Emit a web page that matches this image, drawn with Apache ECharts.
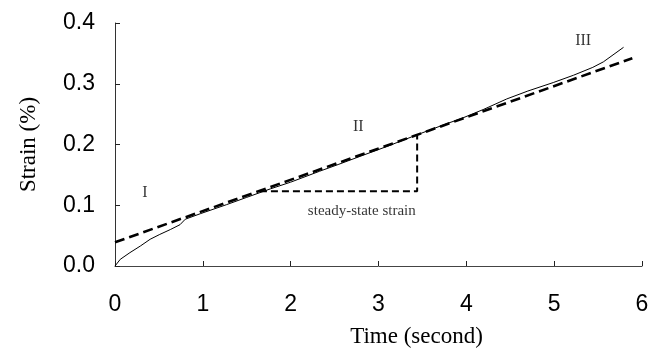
<!DOCTYPE html>
<html>
<head>
<meta charset="utf-8">
<script src="https://cdn.jsdelivr.net/npm/echarts@6/dist/echarts.min.js"></script>
<style>html,body{margin:0;padding:0;background:#fff}#c{width:665px;height:364px}</style>
</head>
<body>
<div id="c"></div>
<script>
// Measured creep strain curve
const timeMeasured = [0, 0.06, 0.17, 0.29, 0.40, 0.51, 0.63, 0.74, 0.80, 0.97, 1.27, 1.5, 1.77, 2.0, 2.33, 2.54, 2.8, 3.1, 3.44, 3.79, 3.93, 4.2, 4.46, 4.7, 4.99, 5.22, 5.44, 5.56, 5.79];
const strainMeasured = [0, 0.011, 0.022, 0.033, 0.044, 0.052, 0.060, 0.068, 0.077, 0.086, 0.101, 0.113, 0.127, 0.138, 0.156, 0.167, 0.181, 0.197, 0.216, 0.235, 0.242, 0.258, 0.275, 0.288, 0.302, 0.314, 0.327, 0.336, 0.360];
// Linear steady-state fit (dashed)
const timeFit = [0, 5.89];
const strainFit = [0.039, 0.342];
// Steady-state strain triangle
const timeTriangle = [1.65, 3.44, 3.44];
const strainTriangle = [0.123, 0.123, 0.216];
// Axis ticks
const xTicks = [0, 1, 2, 3, 4, 5, 6];
const yTicks = [0.0, 0.1, 0.2, 0.3, 0.4];
// Annotations
const annotationText = ['I', 'II', 'III', 'steady-state strain'];
const annotationTime = [0.34, 2.77, 5.33, 2.81];
const annotationStrain = [0.12, 0.229, 0.37, 0.091];

const zip = (a, b) => a.map((v, i) => [v, b[i]]);

const chart = echarts.init(document.getElementById('c'), null, {renderer: 'canvas'});
chart.setOption({
  animation: false,
  backgroundColor: '#fff',
  grid: {left: 115, right: 23, top: 23, bottom: 98},
  xAxis: {
    type: 'value',
    min: xTicks[0], max: xTicks[xTicks.length - 1], interval: 1,
    name: 'Time (second)',
    nameLocation: 'middle',
    nameGap: 59,
    nameTextStyle: {fontFamily: 'Liberation Serif', fontSize: 23, color: '#000', padding: [0, 0, 0, 76]},
    axisLine: {lineStyle: {color: '#444', width: 1}},
    axisTick: {inside: true, length: 5, lineStyle: {color: '#222'}},
    splitLine: {show: false},
    axisLabel: {fontFamily: 'Liberation Sans', fontSize: 23, color: '#000', margin: 27}
  },
  yAxis: {
    type: 'value',
    min: yTicks[0], max: yTicks[yTicks.length - 1], interval: 0.1,
    name: 'Strain (%)',
    nameLocation: 'middle',
    nameGap: 75,
    nameTextStyle: {fontFamily: 'Liberation Serif', fontSize: 23, color: '#000'},
    axisLine: {show: true, lineStyle: {color: '#333', width: 1}},
    axisTick: {show: true, inside: true, length: 5, lineStyle: {color: '#222'}},
    splitLine: {show: false},
    axisLabel: {fontFamily: 'Liberation Sans', fontSize: 23, color: '#000', margin: 20,
      formatter: v => v.toFixed(1)}
  },
  series: [
    {
      type: 'line', data: zip(timeMeasured, strainMeasured), symbol: 'none',
      lineStyle: {color: '#000', width: 1}, z: 3
    },
    {
      type: 'line', data: zip(timeFit, strainFit), symbol: 'none',
      lineStyle: {color: '#000', width: 2.6, type: [10, 5]}, z: 4
    },
    {
      type: 'line', data: zip(timeTriangle, strainTriangle), symbol: 'none',
      lineStyle: {color: '#000', width: 2, type: [7, 4]}, z: 2
    },
    {
      type: 'scatter', symbolSize: 0, silent: true,
      data: annotationText.map((t, i) => ({
        value: [annotationTime[i], annotationStrain[i]],
        label: {show: true, position: 'inside', formatter: t,
          fontFamily: 'Liberation Serif', fontSize: i === 3 ? 15 : 16, color: '#000'}
      }))
    }
  ]
});
</script>
</body>
</html>
